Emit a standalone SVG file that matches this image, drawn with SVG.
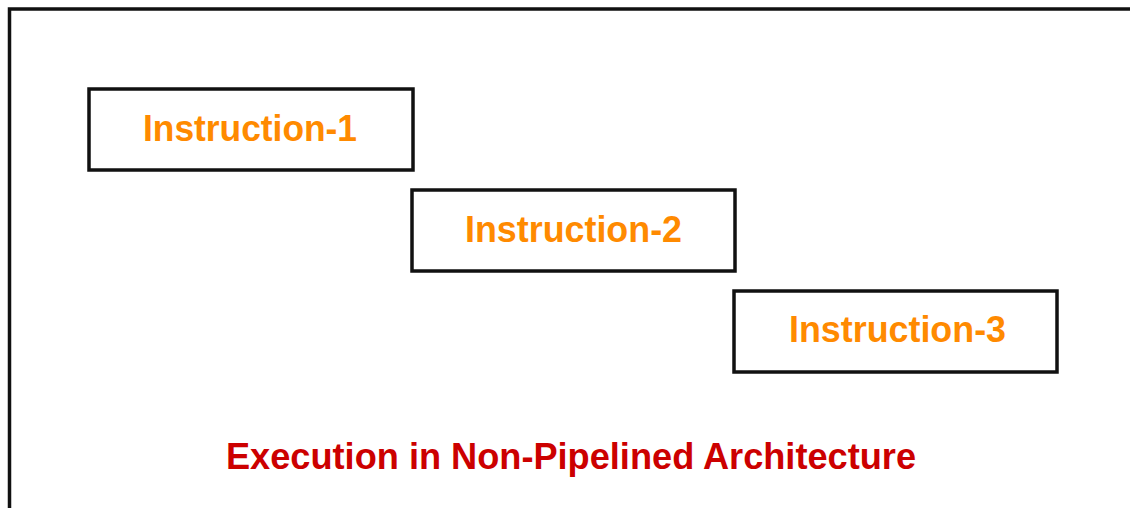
<svg xmlns="http://www.w3.org/2000/svg" width="1130" height="508" viewBox="0 0 1130 508">
  <style>
    .frame { fill: none; stroke: #111; stroke-width: 3.5; }
    .box { fill: #fff; stroke: #111; stroke-width: 3.5; }
    .label { font-family: "Liberation Sans", Arial, sans-serif; font-weight: bold; font-size: 36px; fill: #ff8a00; text-anchor: middle; }
    .title { font-family: "Liberation Sans", Arial, sans-serif; font-weight: bold; font-size: 36px; fill: #cc0000; text-anchor: middle; }
  </style>
  <rect width="1130" height="508" fill="#fff"/>
  <!-- open frame: left and top edges only -->
  <path class="frame" d="M9.5,508 V9 H1130"/>
  <g id="connectors"></g>
  <g id="instruction-1">
    <rect class="box" x="89" y="89" width="324" height="81"/>
    <text class="label" x="250" y="141" textLength="214" lengthAdjust="spacingAndGlyphs">Instruction-1</text>
  </g>
  <g id="instruction-2">
    <rect class="box" x="412" y="190" width="323" height="81"/>
    <text class="label" x="573.5" y="242" textLength="217" lengthAdjust="spacingAndGlyphs">Instruction-2</text>
  </g>
  <g id="instruction-3">
    <rect class="box" x="734" y="291" width="323" height="81"/>
    <text class="label" x="897.5" y="342" textLength="217" lengthAdjust="spacingAndGlyphs">Instruction-3</text>
  </g>
  <g id="caption">
    <text class="title" x="571" y="469" textLength="690" lengthAdjust="spacingAndGlyphs">Execution in Non-Pipelined Architecture</text>
  </g>
</svg>
